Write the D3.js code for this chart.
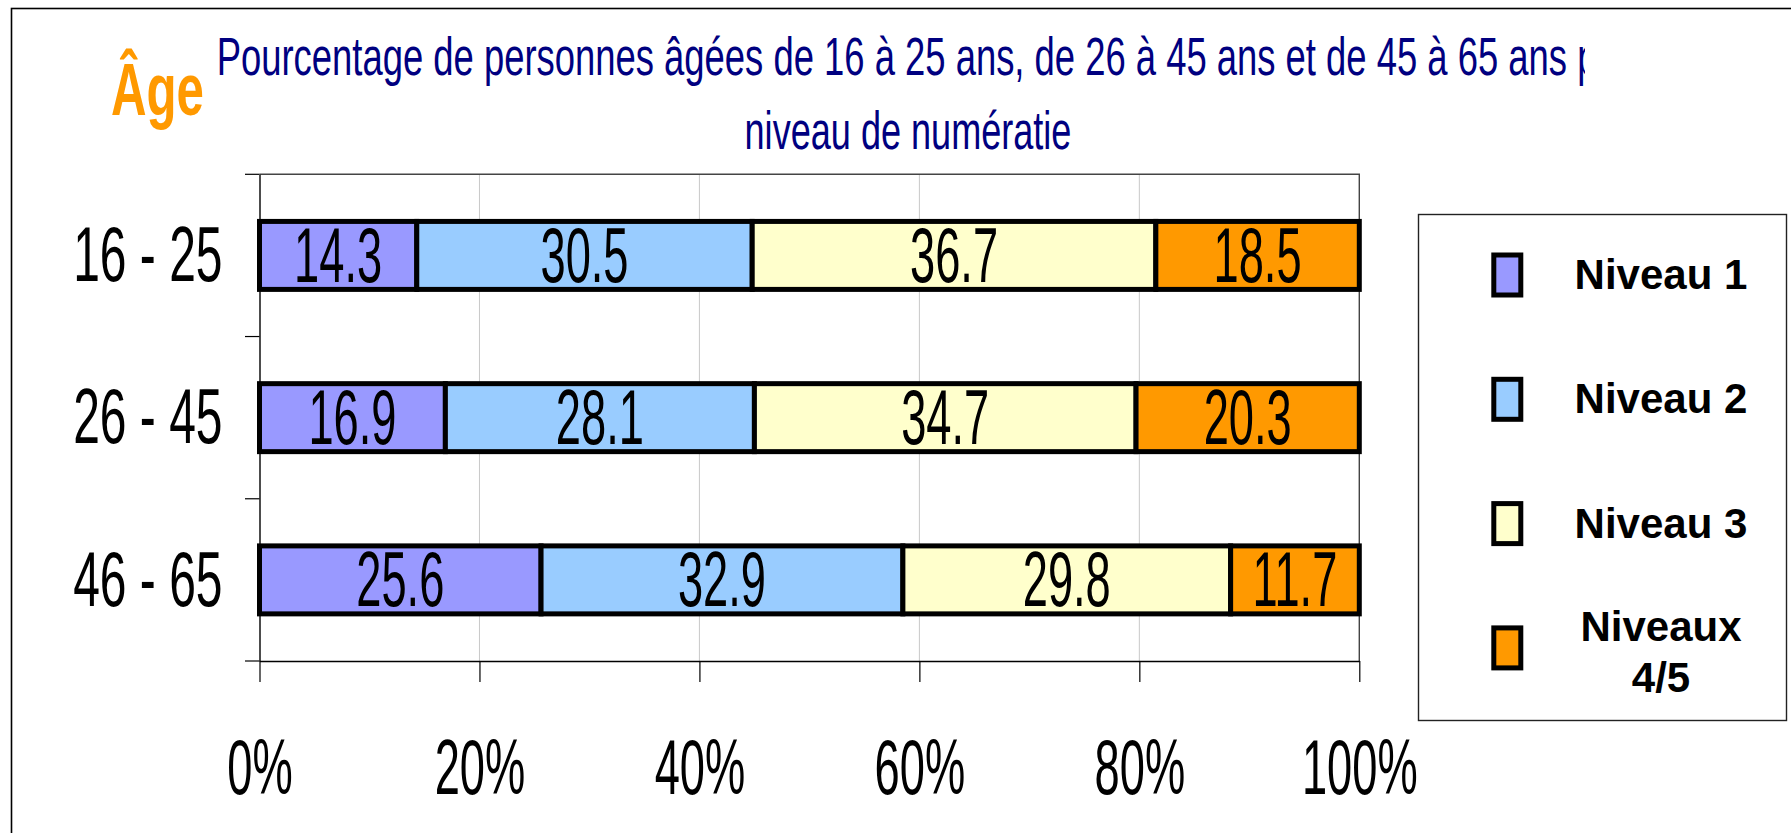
<!DOCTYPE html>
<html>
<head>
<meta charset="utf-8">
<script src="https://cdn.jsdelivr.net/npm/d3@7"></script>
<style>
  html, body { margin: 0; padding: 0; background: #fff; }
  svg { display: block; font-family: "Liberation Sans", Arial, sans-serif; }
</style>
</head>
<body>
<svg id="chart" width="1791" height="833"></svg>
<script>
// ---- data ----
const categories = ["16 - 25", "26 - 45", "46 - 65"];
const seriesNames = ["Niveau 1", "Niveau 2", "Niveau 3", "Niveaux 4/5"];
const niveau1 = [14.3, 16.9, 25.6];
const niveau2 = [30.5, 28.1, 32.9];
const niveau3 = [36.7, 34.7, 29.8];
const niveaux45 = [18.5, 20.3, 11.7];
const xTicks = [0, 20, 40, 60, 80, 100];
const legendLabels = [["Niveau 1"], ["Niveau 2"], ["Niveau 3"], ["Niveaux", "4/5"]];
const titleLine1 = "Pourcentage de personnes âgées de 16 à 25 ans, de 26 à 45 ans et de 45 à 65 ans p";
const titleLine2 = "niveau de numératie";
const axisTitle = "Âge";

// ---- styles ----
const colors = ["#9999FF", "#99CCFF", "#FFFFCC", "#FF9900"];
const NUM_FS = 78;
const NUM_SX = 0.58;
const Y_SX = 0.615;

const svg = d3.select("#chart");

const rows = categories.map((c, i) => ({
  cat: c,
  "Niveau 1": niveau1[i],
  "Niveau 2": niveau2[i],
  "Niveau 3": niveau3[i],
  "Niveaux 4/5": niveaux45[i]
}));
const stacked = d3.stack().keys(seriesNames)(rows);

const plot = { left: 259.5, right: 1359.3, top: 174.3, bottom: 661 };

const x = d3.scaleLinear().domain([0, 100]).range([plot.left, plot.right]);
const pIn = 0.581;
const y = d3.scaleBand().domain(categories).range([plot.top, plot.bottom])
  .paddingInner(pIn).paddingOuter(pIn / 2);

// outer frame
svg.append("rect")
  .attr("x", 11.5).attr("y", 8.5).attr("width", 1900).attr("height", 900)
  .attr("fill", "none").attr("stroke", "#000").attr("stroke-width", 1.6);

// helper to fit text width via horizontal scaling
function fitText(t, xPos, yPos, target, anchor) {
  t.attr("text-anchor", anchor);
  const w = t.node().getComputedTextLength();
  const s = target / w;
  t.attr("x", xPos / s).attr("y", yPos).attr("transform", `scale(${s},1)`);
  return s;
}

// title
const clip = svg.append("defs").append("clipPath").attr("id", "titleClip");
clip.append("rect").attr("x", 0).attr("y", 0).attr("width", 1585).attr("height", 170);
const titleG = svg.append("g").attr("clip-path", "url(#titleClip)");
const t1 = titleG.append("text").text(titleLine1)
  .attr("font-size", 54).attr("fill", "#000080");
fitText(t1, 216.7, 75, 1381, "start");
const t2 = svg.append("text").text(titleLine2)
  .attr("font-size", 54).attr("fill", "#000080");
fitText(t2, 908, 149, 327, "middle");

const ta = svg.append("text").text(axisTitle)
  .attr("font-size", 75).attr("font-weight", "bold").attr("fill", "#FF9900");
fitText(ta, 111, 115, 93, "start");

// gridlines
svg.append("g").selectAll("line").data(xTicks.filter(d => d > 0 && d < 100)).join("line")
  .attr("x1", d => x(d)).attr("x2", d => x(d))
  .attr("y1", plot.top).attr("y2", plot.bottom)
  .attr("stroke", "#c8c8c8").attr("stroke-width", 1);

// plot border (top & right)
svg.append("path")
  .attr("d", `M${plot.left},${plot.top}H${plot.right}V${plot.bottom}`)
  .attr("fill", "none").attr("stroke", "#444").attr("stroke-width", 1.4);

// bars
const bars = svg.append("g");
stacked.forEach((s, si) => {
  bars.append("g").selectAll("rect").data(s).join("rect")
    .attr("x", d => x(d[0]))
    .attr("width", d => x(d[1]) - x(d[0]))
    .attr("y", d => y(d.data.cat))
    .attr("height", y.bandwidth())
    .attr("fill", colors[si])
    .attr("stroke", "#000")
    .attr("stroke-width", 5);
});
// value labels
stacked.forEach((s, si) => {
  bars.append("g").selectAll("text").data(s).join("text")
    .attr("text-anchor", "middle")
    .attr("font-size", NUM_FS)
    .attr("fill", "#000")
    .attr("dy", "0.34em")
    .attr("transform", d => `translate(${(x(d[0]) + x(d[1])) / 2},${y(d.data.cat) + y.bandwidth() / 2}) scale(${NUM_SX},1)`)
    .text(d => d3.format(".1f")(d[1] - d[0]));
});

// x axis
const xAxis = svg.append("g")
  .attr("transform", `translate(0,${plot.bottom})`)
  .call(d3.axisBottom(x).tickValues(xTicks).tickFormat(d => d + "%")
    .tickSize(21).tickPadding(57).tickSizeOuter(0));
xAxis.select(".domain").attr("stroke", "#000").attr("stroke-width", 1.6);
xAxis.selectAll(".tick line").attr("stroke", "#000").attr("stroke-width", 1.2);
xAxis.selectAll(".tick text")
  .attr("font-size", NUM_FS).attr("font-family", "Liberation Sans, Arial, sans-serif")
  .attr("fill", "#000").attr("transform", `scale(${NUM_SX},1)`);

// y axis
const yAxis = svg.append("g")
  .attr("transform", `translate(${plot.left},0)`)
  .call(d3.axisLeft(y).tickSize(0).tickPadding(0).tickSizeOuter(0));
yAxis.select(".domain").attr("stroke", "#000").attr("stroke-width", 1.4);
yAxis.selectAll(".tick text")
  .attr("font-size", NUM_FS).attr("font-family", "Liberation Sans, Arial, sans-serif")
  .attr("fill", "#000").attr("dy", "0.33em")
  .attr("x", -37 / Y_SX).attr("transform", `scale(${Y_SX},1)`);
// category boundary ticks
const gap = (y.step() - y.bandwidth()) / 2;
const bounds = categories.map(c => y(c) - gap).concat([y(categories[categories.length - 1]) + y.bandwidth() + gap]);
svg.append("g").selectAll("line").data(bounds).join("line")
  .attr("x1", plot.left - 14.5).attr("x2", plot.left)
  .attr("y1", d => d).attr("y2", d => d)
  .attr("stroke", "#000").attr("stroke-width", 1.2);

// legend
const lg = svg.append("g");
lg.append("rect")
  .attr("x", 1418.5).attr("y", 214.5).attr("width", 368).attr("height", 506)
  .attr("fill", "#fff").attr("stroke", "#222").attr("stroke-width", 1.4);
const legStep = 124.3, legStart = 275;
seriesNames.forEach((name, i) => {
  const cy = legStart + i * legStep;
  lg.append("rect")
    .attr("x", 1493.8).attr("y", cy - 20).attr("width", 27).attr("height", 40)
    .attr("fill", colors[i]).attr("stroke", "#000").attr("stroke-width", 5);
  const lines = legendLabels[i];
  const lh = 51;
  lines.forEach((ln, j) => {
    lg.append("text")
      .attr("x", 1661)
      .attr("y", cy + 14 + (j - (lines.length - 1) / 2) * lh + (lines.length > 1 ? 5 : 0))
      .attr("text-anchor", "middle")
      .attr("font-size", 42).attr("font-weight", "bold").attr("fill", "#000")
      .text(ln);
  });
});
</script>
</body>
</html>
